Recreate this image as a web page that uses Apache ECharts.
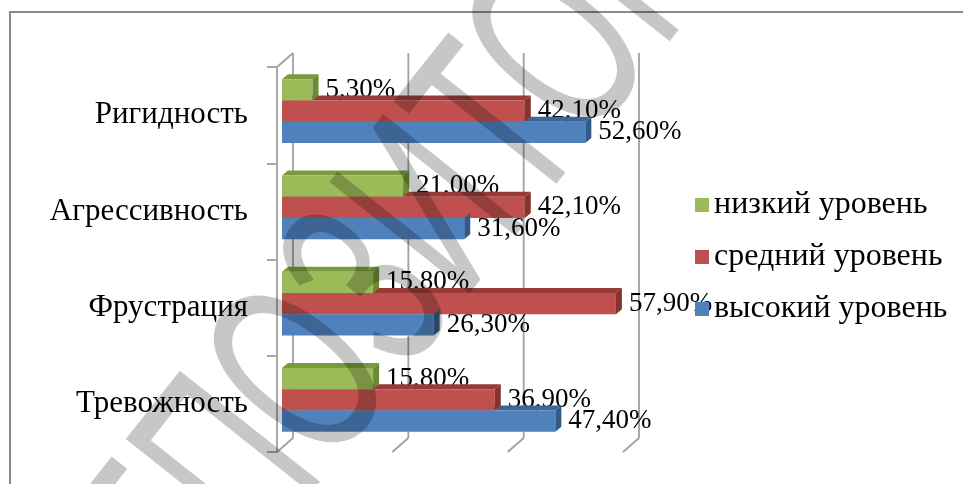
<!DOCTYPE html>
<html>
<head>
<meta charset="utf-8">
<script src="https://cdn.jsdelivr.net/npm/echarts@6/dist/echarts.min.js"></script>
<style>
html,body{margin:0;padding:0;background:#fff;}
#chart{width:963px;height:484px;}
</style>
</head>
<body>
<div id="chart"></div>
<script>
// Categories, bottom to top (ECharts category axis order)
const categories = ['Тревожность', 'Фрустрация', 'Агрессивность', 'Ригидность'];
const seriesNames = ['низкий уровень', 'средний уровень', 'высокий уровень'];
const lowValues = [15.8, 15.8, 21.0, 5.3];
const midValues = [36.9, 57.9, 42.1, 42.1];
const highValues = [47.4, 26.3, 31.6, 52.6];
const xTicks = [0, 20, 40, 60];
const watermarkText = 'РЕПОЗИТОРИЙ';

const SERIF = 'Liberation Serif';
const frontColors = ['#9BBB59', '#C0504D', '#4F81BD'];
const topColors = ['#7A9A3E', '#963B38', '#3C6598'];
const sideColors = ['#6C8A34', '#86322F', '#345A88'];

const chart = echarts.init(document.getElementById('chart'));

function fmt(v) { return v.toFixed(2).replace('.', ',') + '%'; }

function makeBarRenderer(level) {
  return function (params, api) {
    const v = api.value(0), c = api.value(1);
    const p0 = api.coord([0, c]);
    const p1 = api.coord([v, c]);
    const band = api.size([0, 1])[1];
    const h = band * 0.221;
    const top = p0[1] - 4 - 1.5 * h + level * h;
    const bot = top + h;
    const x0 = p0[0] + 5, x1 = p1[0] + 5;
    const dx = 6, dy = -5;
    return {
      type: 'group',
      children: [
        { type: 'text', x: x1 + 13, y: (top + bot) / 2, z2: 10 * level,
          style: { text: fmt(v), fill: '#000', fontSize: 27, fontFamily: SERIF,
                   align: 'left', verticalAlign: 'middle' } },
        { type: 'polygon', z2: 10 * level + 5,
          shape: { points: [[x0, top], [x0 + dx, top + dy], [x1 + dx, top + dy], [x1, top]] },
          style: { fill: topColors[level] } },
        { type: 'rect', z2: 60, shape: { x: x0, y: top, width: x1 - x0, height: h },
          style: { fill: frontColors[level] } },
        { type: 'polygon', z2: 60,
          shape: { points: [[x1, top], [x1 + dx, top + dy], [x1 + dx, bot + dy], [x1, bot]] },
          style: { fill: sideColors[level] } }
      ]
    };
  };
}

function frameRenderer(params, api) {
  const v = api.value(0);
  const cs = params.coordSys;
  const xf = api.coord([v, 0])[0];
  const xb = xf + 16;
  const top = cs.y, bottom = cs.y + cs.height;
  const topB = top - 14, botB = bottom - 14;
  const ls = { stroke: '#A0A0A0', lineWidth: 1.8 };
  const children = [
    { type: 'line', shape: { x1: xb, y1: topB, x2: xb, y2: botB }, style: ls },
    { type: 'line', shape: { x1: xb, y1: botB, x2: xf, y2: bottom }, style: ls }
  ];
  if (v === 0) {
    children.push({ type: 'line', shape: { x1: xb, y1: topB, x2: xf, y2: top }, style: ls });
  }
  return { type: 'group', children: children };
}

const valueSets = [lowValues, midValues, highValues];

const series = [{
  type: 'custom',
  name: 'frame',
  renderItem: frameRenderer,
  data: xTicks.map(t => [t, 0]),
  encode: { x: 0, y: 1 },
  clip: false,
  silent: true,
  z: 1
}];
valueSets.forEach((vals, i) => {
  series.push({
    type: 'custom',
    name: seriesNames[i],
    renderItem: makeBarRenderer(i),
    data: vals.map((v, ci) => [v, ci]),
    encode: { x: 0, y: 1 },
    itemStyle: { color: frontColors[i] },
    clip: false,
    z: 2
  });
});

chart.setOption({
  animation: false,
  backgroundColor: '#fff',
  grid: { left: 277, top: 67, width: 346, height: 385, containLabel: false },
  xAxis: {
    type: 'value', min: 0, max: 60, interval: 20,
    axisLabel: { show: false }, axisLine: { show: false },
    axisTick: { show: false }, splitLine: { show: false }
  },
  yAxis: {
    type: 'category', data: categories,
    axisLine: { show: true, lineStyle: { color: '#A0A0A0', width: 1.8 } },
    axisTick: { show: true, length: 10, lineStyle: { color: '#A0A0A0', width: 1.8 } },
    axisLabel: { fontSize: 31, fontFamily: SERIF, color: '#000', margin: 29 }
  },
  legend: {
    orient: 'vertical', left: 690, top: 184,
    data: seriesNames.map(n => ({ name: n, icon: 'rect' })),
    itemWidth: 14, itemHeight: 14, itemGap: 20,
    textStyle: { fontSize: 32, fontFamily: SERIF, color: '#000', lineHeight: 32 },
    z: 20
  },
  graphic: [
    { type: 'rect', shape: { x: 10, y: 12, width: 1200, height: 1000 },
      style: { fill: null, stroke: '#8A8A8A', lineWidth: 2 }, z: 0, silent: true },
    { type: 'text', x: 441, y: 214, rotation: 0.9, scaleX: 0.6, z: 100, silent: true,
      style: { text: watermarkText, fontSize: 260, fontFamily: 'Liberation Sans',
               fill: 'rgba(0,0,0,0.22)', align: 'center', verticalAlign: 'middle' } }
  ],
  series: series
});
</script>
</body>
</html>
